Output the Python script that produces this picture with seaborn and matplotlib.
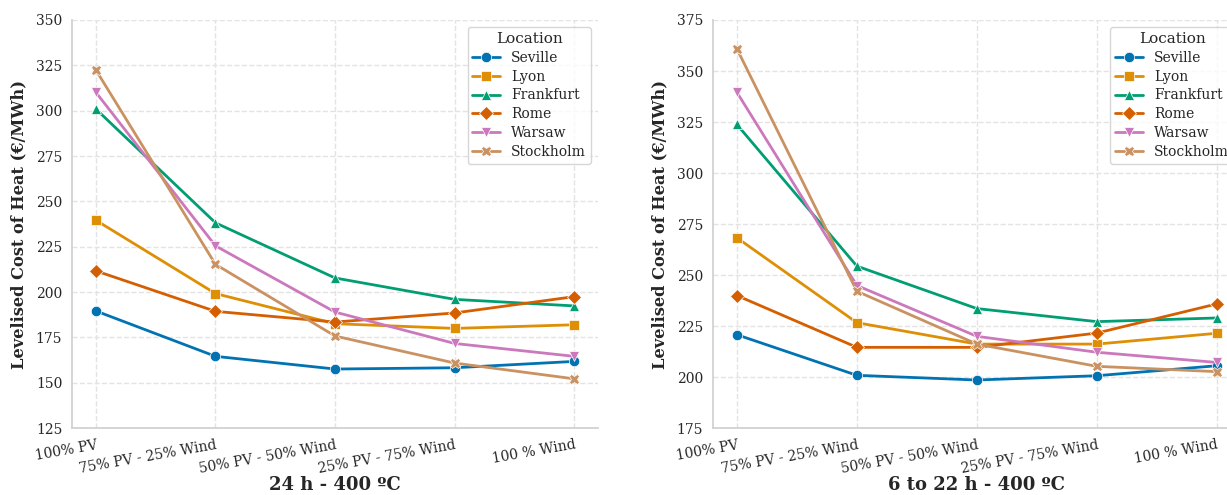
import numpy as np
import pandas as pd
import matplotlib
matplotlib.use("Agg")
import matplotlib.pyplot as plt
import seaborn as sns

mixes = ['100% PV', '75% PV - 25% Wind', '50% PV - 50% Wind', '25% PV - 75% Wind', '100 % Wind']
locations = ['Seville', 'Lyon', 'Frankfurt', 'Rome', 'Warsaw', 'Stockholm']

# 24 h - 400 ºC
lcoh_24h = {
    'Seville':   [189.6, 164.6, 157.6, 158.3, 161.8],
    'Lyon':      [239.6, 199.2, 182.6, 180.0, 182.0],
    'Frankfurt': [300.9, 238.2, 207.8, 196.0, 192.4],
    'Rome':      [211.7, 189.4, 183.5, 188.5, 197.5],
    'Warsaw':    [310.1, 225.5, 189.0, 171.7, 164.6],
    'Stockholm': [322.4, 215.3, 175.8, 160.9, 152.2],
}

# 6 to 22 h - 400 ºC
lcoh_6_22h = {
    'Seville':   [220.8, 200.9, 198.6, 200.7, 205.6],
    'Lyon':      [268.3, 226.7, 216.2, 216.2, 221.5],
    'Frankfurt': [323.8, 254.4, 233.6, 227.2, 229.0],
    'Rome':      [240.0, 214.6, 214.6, 221.6, 235.9],
    'Warsaw':    [339.6, 244.9, 220.0, 212.2, 207.2],
    'Stockholm': [360.9, 242.1, 216.2, 205.3, 202.7],
}

markers = {'Seville': 'o', 'Lyon': 's', 'Frankfurt': '^', 'Rome': 'D', 'Warsaw': 'v', 'Stockholm': 'X'}


def to_frame(data):
    rows = []
    for loc in locations:
        for mix, val in zip(mixes, data[loc]):
            rows.append({'Mix': mix, 'LCOH': val, 'Location': loc})
    return pd.DataFrame(rows)


sns.set_theme(style='whitegrid', palette='colorblind')
plt.rcParams['font.family'] = ['DejaVu Serif']
plt.rcParams['grid.linestyle'] = '--'
plt.rcParams['grid.color'] = '#e3e3e3'
plt.rcParams['axes.edgecolor'] = '#d0d0d0'

fig = plt.figure(figsize=(12.27, 4.95), dpi=100)
ax1 = fig.add_axes([0.0587, 0.135, 0.4287, 0.8246])
ax2 = fig.add_axes([0.581, 0.135, 0.4303, 0.8246])

panels = [(ax1, lcoh_24h, '24 h - 400 ºC', (125, 350)),
          (ax2, lcoh_6_22h, '6 to 22 h - 400 ºC', (175, 375))]

for ax, data, title, ylim in panels:
    df = to_frame(data)
    sns.lineplot(data=df, x='Mix', y='LCOH', hue='Location', style='Location',
                 markers=markers, dashes=False, linewidth=2, markersize=7.5,
                 markeredgewidth=0.5, ax=ax, sort=False)
    ax.set_xlim(-0.2, 4.2)
    ax.set_ylim(*ylim)
    ax.set_yticks(np.arange(ylim[0], ylim[1] + 1, 25))
    ax.set_xlabel(title, fontsize=13, fontweight='bold')
    ax.xaxis.set_label_coords(0.5, -0.116)
    ax.set_ylabel('Levelised Cost of Heat (€/MWh)', fontsize=11.7, fontweight='bold', labelpad=6)
    ax.tick_params(axis='both', labelsize=10, pad=1)
    plt.setp(ax.get_xticklabels(), rotation=10, ha='right', rotation_mode='anchor')
    for side in ['top', 'right']:
        ax.spines[side].set_visible(False)
    leg = ax.legend(title='Location', loc='upper right', fontsize=10, title_fontsize=11,
                    frameon=True, borderpad=0.35, labelspacing=0.35, handlelength=2.0,
                    borderaxespad=0.5)
    leg.get_frame().set_edgecolor('#cccccc')

fig.savefig('out.png', dpi=100)
